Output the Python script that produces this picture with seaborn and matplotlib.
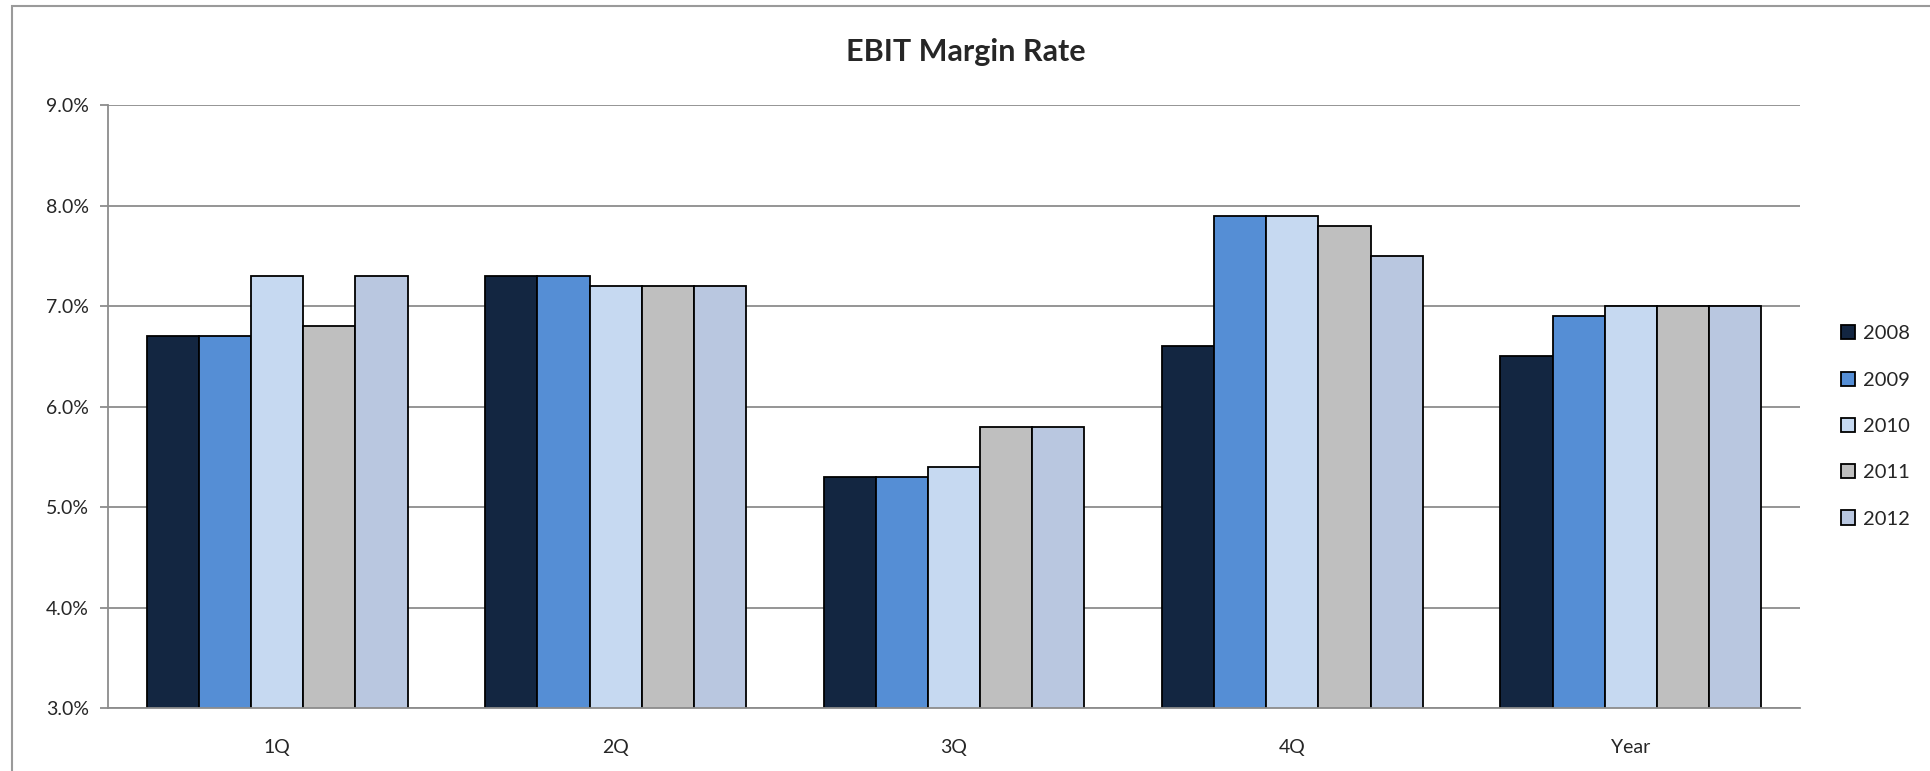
import numpy as np
import pandas as pd
import matplotlib
matplotlib.use('Agg')
import matplotlib.pyplot as plt
import seaborn as sns
from matplotlib.patches import Rectangle
from matplotlib.ticker import FuncFormatter, MultipleLocator

# Chart values (EBIT margin, %)
periods = ['1Q', '2Q', '3Q', '4Q', 'Year']
years = ['2008', '2009', '2010', '2011', '2012']
margin_2008 = [6.7, 7.3, 5.3, 6.6, 6.5]
margin_2009 = [6.7, 7.3, 5.3, 7.9, 6.9]
margin_2010 = [7.3, 7.2, 5.4, 7.9, 7.0]
margin_2011 = [6.8, 7.2, 5.8, 7.8, 7.0]
margin_2012 = [7.3, 7.2, 5.8, 7.5, 7.0]
colors = ['#132641', '#558ed5', '#c6d9f1', '#bfbfbf', '#b9c7e0']

series = [margin_2008, margin_2009, margin_2010, margin_2011, margin_2012]
df = pd.DataFrame({
    'period': periods * len(years),
    'year': np.repeat(years, len(periods)),
    'margin': np.concatenate(series),
})

sns.set_theme(style='white')
plt.rcParams['font.family'] = ['Lato', 'DejaVu Sans']

fig = plt.figure(figsize=(19.3, 7.71), dpi=100)
ax = fig.add_axes([0.056, 0.0817, 0.8766, 0.7821])

sns.barplot(data=df, x='period', y='margin', hue='year', order=periods,
            hue_order=years, palette=colors, width=0.77, gap=0,
            edgecolor='black', linewidth=1.3, saturation=1, ax=ax)

ax.set_ylim(3, 9)
ax.set_xlim(-0.5, len(periods) - 0.5)
ax.yaxis.set_major_locator(MultipleLocator(1))
ax.yaxis.set_major_formatter(FuncFormatter(lambda v, p: f'{v:.1f}%'))
ax.grid(axis='y', color='#8c8c8c', linewidth=1.3)
ax.set_axisbelow(True)
for side in ['top', 'right']:
    ax.spines[side].set_visible(False)
for side in ['left', 'bottom']:
    ax.spines[side].set_color('#8c8c8c')
    ax.spines[side].set_linewidth(1.3)
ax.tick_params(axis='y', left=True, length=6, width=1.3, color='#8c8c8c',
               labelsize=14, pad=8)
ax.tick_params(axis='x', bottom=False, labelsize=14, pad=16)
ax.set_xlabel('')
ax.set_ylabel('')

fig.text(0.5005, 0.932, 'EBIT Margin Rate', ha='center', va='center',
         fontsize=22, fontweight='bold')

handles, labels = ax.get_legend_handles_labels()
ax.legend(handles, labels, loc='center left', bbox_to_anchor=(0.9445, 0.447),
          bbox_transform=fig.transFigure, frameon=False, fontsize=14.5,
          labelspacing=1.45, handlelength=0.7, handleheight=0.7,
          handletextpad=0.4)

# chart outer border
fig.patches.append(Rectangle((12 / 1930, -0.5), 2, 0.5 + 1 - 6 / 771,
                             transform=fig.transFigure, fill=False,
                             edgecolor='#9a9a9a', linewidth=1.5))

fig.savefig('out.png', dpi=100)
